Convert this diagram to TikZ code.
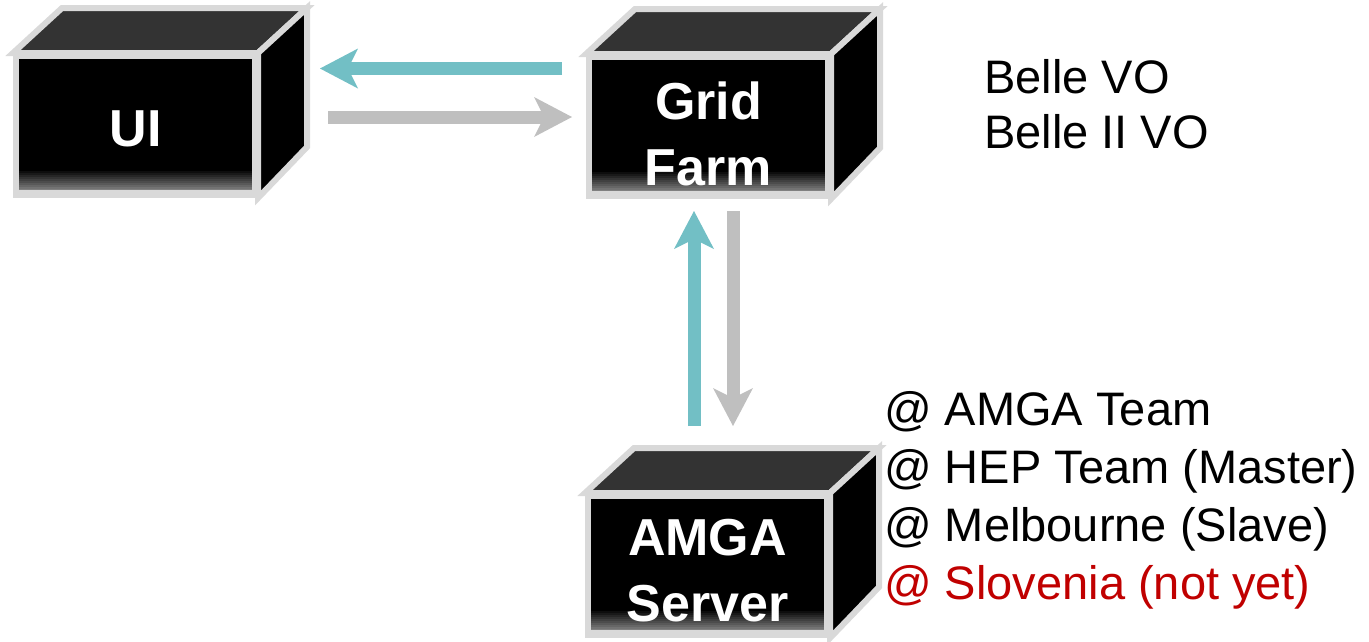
\documentclass[tikz,border=0pt]{standalone}
\usepackage{fontspec}
\setmainfont{Liberation Sans}
\usetikzlibrary{arrows.meta,calc}
\definecolor{flowteal}{HTML}{72BFC5}
\definecolor{flowgray}{HTML}{BFBFBF}
\definecolor{edgegray}{HTML}{D9D9D9}
\definecolor{topgray}{HTML}{333333}
\definecolor{notyet}{HTML}{C00000}
\tikzset{
  frontface/.style={draw=edgegray, line width=6pt, fill=black,
    minimum width=239pt, minimum height=139pt, inner sep=0pt,
    path picture={
      \foreach \i in {0,...,11}{
        \pgfmathtruncatemacro\fadepct{100-5*\i}
        \fill[black!\fadepct]
          ([yshift={(26-2*\i)*1pt}]path picture bounding box.south west)
          rectangle ([yshift={(23.5-2*\i)*1pt}]path picture bounding box.south east);
      }
      \fill[edgegray] (path picture bounding box.south west)
        rectangle ([yshift=5pt]path picture bounding box.south east);}},
  boxlabel/.style={text=white, align=center, inner sep=0pt,
    font=\fontsize{52}{66}\selectfont\bfseries},
  topface/.style={draw=edgegray, line width=6pt, fill=topgray},
  sideface/.style={draw=edgegray, line width=6pt, fill=black},
  flow/.style={line width=13pt,
    -{Stealth[length=38pt, width=40pt, inset=10pt, line width=0pt]}},
  tealflow/.style={flow, draw=flowteal},
  grayflow/.style={flow, draw=flowgray},
  infotext/.style={anchor=base west, inner sep=0pt, font=\fontsize{47}{55}\selectfont}
}
\begin{document}
\begin{tikzpicture}[x=1pt, y=-1pt]
\useasboundingbox (0,0) rectangle (1369,641);
% boxes
\node[frontface, label={[boxlabel, yshift=-3pt]center:UI}] (ui) at (135.5,125.5) {};
\node[frontface, label={[boxlabel, yshift=-7pt]center:Grid\\Farm}] (grid) at (708.5,126.5) {};
\node[frontface, label={[boxlabel, yshift=-5pt]center:AMGA\\Server}] (amga) at (707.5,565.5) {};
\foreach \b in {ui,grid,amga}{
  \draw[topface] (\b.north west) -- ++(49,-45) -- ($(\b.north east)+(49,-45)$) -- (\b.north east) -- cycle;
  \draw[sideface] (\b.north east) -- ++(49,-45) -- ++(0,139) -- (\b.south east) -- cycle;
}
% arrows
\draw[tealflow] ($(grid.west)+(-24,-58)$) -- ($(ui.east)+(62,-57)$);
\draw[grayflow] ($(ui.east)+(70,-8.5)$) -- ($(grid.west)+(-14,-9.5)$);
\draw[tealflow] ($(amga.north)+(-13.5,-67)$) -- ($(grid.south)+(-14.5,12)$);
\draw[grayflow] ($(grid.south)+(24.5,12)$) -- ($(amga.north)+(25.5,-67)$);
% labels
\node[infotext] (vo1) at (984,93) {Belle VO};
\node[infotext] (vo2) at (984,148) {Belle II VO};
\node[infotext] (site1) at (884,425) {@ AMGA Team};
\node[infotext] (site2) at (884,483) {@ HEP Team (Master)};
\node[infotext] (site3) at (884,541) {@ Melbourne (Slave)};
\node[infotext, text=notyet] (site4) at (884,599) {@ Slovenia (not yet)};
\end{tikzpicture}
\end{document}
